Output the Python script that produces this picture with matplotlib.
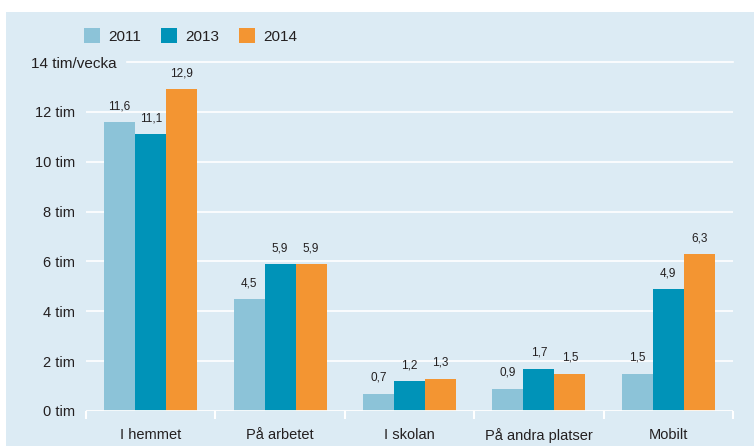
import numpy as np
import matplotlib.pyplot as plt
import matplotlib.transforms as mtransforms
from matplotlib.patches import Rectangle, Patch

plt.rcParams['font.family'] = ['Liberation Sans', 'DejaVu Sans']

# Data
categories = ['I hemmet', 'På arbetet', 'I skolan', 'På andra platser', 'Mobilt']
years = ['2011', '2013', '2014']
v2011 = [11.6, 4.5, 0.7, 0.9, 1.5]
v2013 = [11.1, 5.9, 1.2, 1.7, 4.9]
v2014 = [12.9, 5.9, 1.3, 1.5, 6.3]
ytick_vals = [0, 2, 4, 6, 8, 10, 12, 14]
ytick_labels = ['0 tim', '2 tim', '4 tim', '6 tim', '8 tim', '10 tim', '12 tim', '14 tim/vecka']

colors = ['#8cc3d8', '#0093b8', '#f39532']
bg = '#dcebf4'
txt = '#231f20'

W, H = 754, 446
fig = plt.figure(figsize=(W / 100, H / 100), dpi=100, facecolor='white')
fig.patches.append(Rectangle((6 / W, 0), 1, 1 - 12 / H, transform=fig.transFigure,
                             facecolor=bg, edgecolor='none', zorder=-10))

ax = fig.add_axes([86 / W, 1 - 411 / H, (733 - 86) / W, (411 - 62) / H])
ax.set_facecolor('none')
ax.set_xlim(-0.5, 4.5)
ax.set_ylim(0, 14)

x = np.arange(len(categories))
bw = 0.24
series = [v2011, v2013, v2014]
for i, vals in enumerate(series):
    pos = x + (i - 1) * bw
    bars = ax.bar(pos, vals, width=bw, color=colors[i], zorder=3)
    for b, v in zip(bars, vals):
        ax.annotate(f'{v:.1f}'.replace('.', ','), (b.get_x() + b.get_width() / 2, v),
                    xytext=(0, 7), textcoords='offset points', ha='center', va='bottom',
                    fontsize=8.5, color=txt)

# white gridlines
for yv in ytick_vals[1:-1]:
    ax.axhline(yv, color='white', lw=1.2, zorder=1)
ax.axhline(14, xmin=(127 - 86) / (733 - 86), xmax=1, color='white', lw=1.2, zorder=1, clip_on=False)
ax.axhline(0, color='white', lw=2, zorder=4)

for s in ax.spines.values():
    s.set_visible(False)

ax.set_yticks(ytick_vals)
ax.set_yticklabels(ytick_labels, fontsize=10.5, color=txt)
ax.tick_params(axis='y', length=0, pad=8)
# top label sits further right, ending just before its gridline
top_lbl = ax.get_yticklabels()[-1]
top_lbl.set_fontsize(11)
top_lbl.set_transform(top_lbl.get_transform() +
                      mtransforms.ScaledTranslation(42 / 100, 0, fig.dpi_scale_trans))

ax.set_xticks(np.arange(-0.5, 5, 1))
ax.set_xticklabels([])
ax.tick_params(axis='x', which='major', color='white', length=6, width=1.5)
ax.set_xticks(x, minor=True)
ax.set_xticklabels(categories, minor=True, fontsize=10.5, color=txt)
ax.tick_params(axis='x', which='minor', length=0, pad=12)

handles = [Patch(facecolor=c, edgecolor='none') for c in colors]
fig.legend(handles, years, loc='center left', bbox_to_anchor=(70 / W, 1 - 36 / H),
           ncol=3, frameon=False, fontsize=11, handlelength=1.05, handleheight=1.05,
           handletextpad=0.55, columnspacing=1.3, labelcolor=txt)

fig.savefig('out.png', dpi=100, facecolor='white')
